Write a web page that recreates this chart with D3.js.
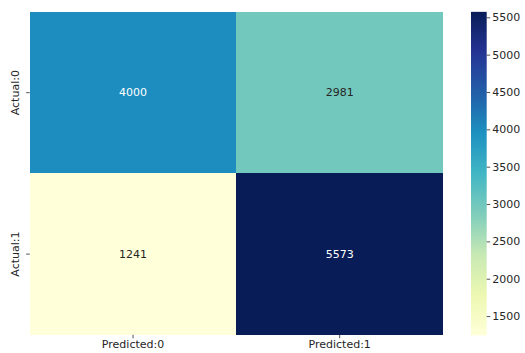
<!DOCTYPE html>
<html><head><meta charset="utf-8">
<script src="https://cdn.jsdelivr.net/npm/d3@7"></script>
<style>body{margin:0;background:#fff}svg{display:block}text{font-family:"DejaVu Sans",sans-serif}</style>
</head><body><svg id="c" width="525" height="353"></svg>
<script>
const rowLabels = ["Actual:0", "Actual:1"];
const colLabels = ["Predicted:0", "Predicted:1"];
const values = [[4000, 2981], [1241, 5573]];
const cbTicks = [1500, 2000, 2500, 3000, 3500, 4000, 4500, 5000, 5500];

const svg = d3.select("#c");
const mLeft = 29.7, mRight = 443, mTop = 12, mBottom = 334.8;
const x = d3.scaleBand().domain(colLabels).range([mLeft, mRight]);
const y = d3.scaleBand().domain(rowLabels).range([mTop, mBottom]);
const flat = values.flat();
const vmin = d3.min(flat), vmax = d3.max(flat);
const interp = d3.piecewise(d3.interpolateRgb, d3.schemeYlGnBu[9]);
const color = d3.scaleSequential(interp).domain([vmin, vmax]);

const cells = [];
rowLabels.forEach((r, i) => colLabels.forEach((c, j) => cells.push({r, c, v: values[i][j]})));

svg.selectAll("rect.cell").data(cells).join("rect")
  .attr("class", "cell")
  .attr("x", d => x(d.c)).attr("y", d => y(d.r))
  .attr("width", x.bandwidth()).attr("height", y.bandwidth())
  .attr("fill", d => color(d.v)).attr("shape-rendering", "crispEdges");

function lum(c) {
  const rgb = d3.rgb(c);
  const f = u => { const s = u / 255; return s <= 0.03928 ? s / 12.92 : Math.pow((s + 0.055) / 1.055, 2.4); };
  return 0.2126 * f(rgb.r) + 0.7152 * f(rgb.g) + 0.0722 * f(rgb.b);
}
svg.selectAll("text.val").data(cells).join("text")
  .attr("class", "val")
  .attr("x", d => x(d.c) + x.bandwidth() / 2).attr("y", d => y(d.r) + y.bandwidth() / 2)
  .attr("text-anchor", "middle").attr("dominant-baseline", "central")
  .attr("font-size", 11)
  .style("fill", d => lum(color(d.v)) > 0.408 ? "#262626" : "#ffffff")
  .text(d => d.v);

// x axis
const xa = svg.append("g").attr("transform", `translate(0,${mBottom})`)
  .call(d3.axisBottom(x).tickSize(3.5).tickPadding(2));
xa.select(".domain").remove();
xa.selectAll("line").attr("stroke", "#262626").attr("stroke-width", 0.8);
xa.selectAll("text").attr("font-size", 11).attr("fill", "#262626").attr("font-family", "DejaVu Sans");

// y axis
const ya = svg.append("g").attr("transform", `translate(${mLeft},0)`)
  .call(d3.axisLeft(y).tickSize(3.5).tickPadding(2));
ya.select(".domain").remove();
ya.selectAll("line").attr("stroke", "#262626").attr("stroke-width", 0.8);
ya.selectAll("text").attr("font-size", 11).attr("fill", "#262626").attr("font-family", "DejaVu Sans")
  .attr("text-anchor", "middle").attr("dy", null).attr("x", null)
  .attr("transform", "translate(-14,0) rotate(-90)").attr("dominant-baseline", "central");

// colorbar
const cbx = 471, cbw = 15.7;
const cy = d3.scaleLinear().domain([vmin, vmax]).range([335.4, 11.85]);
const defs = svg.append("defs");
const grad = defs.append("linearGradient").attr("id", "g").attr("x1", 0).attr("x2", 0).attr("y1", 1).attr("y2", 0);
d3.range(0, 1.0001, 0.025).forEach(t => grad.append("stop").attr("offset", t).attr("stop-color", interp(t)));
svg.append("rect").attr("x", cbx).attr("y", cy(vmax)).attr("width", cbw)
  .attr("height", cy(vmin) - cy(vmax)).attr("fill", "url(#g)");
const ca = svg.append("g").attr("transform", `translate(${cbx + cbw},0)`)
  .call(d3.axisRight(cy).tickValues(cbTicks).tickSize(3.5).tickPadding(2).tickFormat(d3.format("d")));
ca.select(".domain").remove();
ca.selectAll("line").attr("stroke", "#262626").attr("stroke-width", 0.8);
ca.selectAll("text").attr("font-size", 11).attr("fill", "#262626").attr("font-family", "DejaVu Sans");
</script></body></html>
